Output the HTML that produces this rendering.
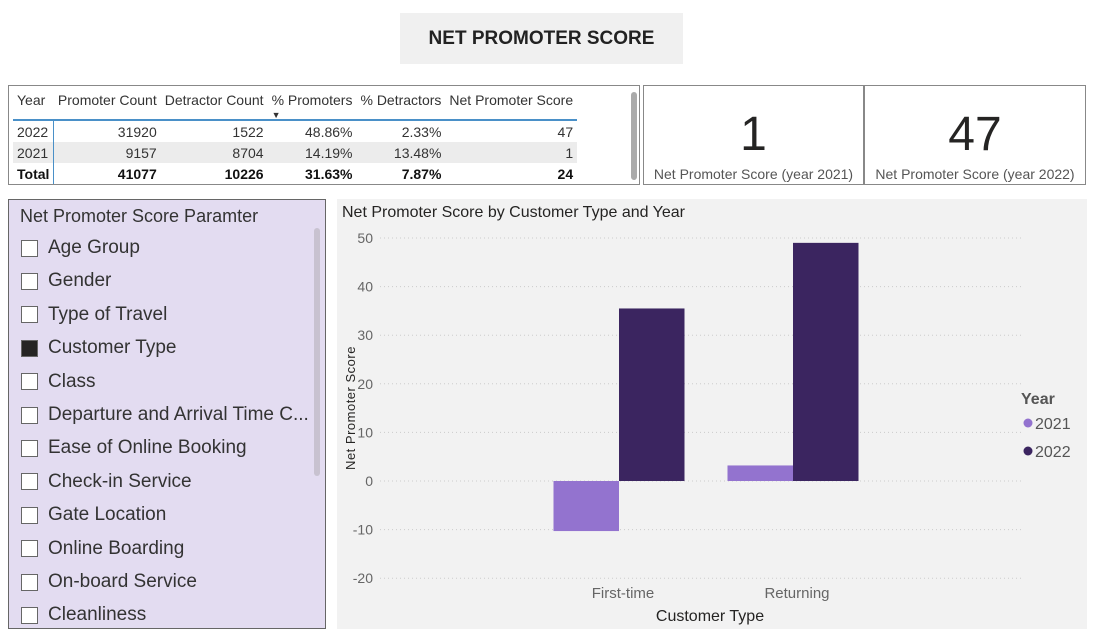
<!DOCTYPE html>
<html><head><meta charset="utf-8"><style>
body{margin:0;width:1093px;height:634px;background:#fff;font-family:"Liberation Sans",sans-serif;position:relative;overflow:hidden}
.abs{position:absolute}
#title{left:400px;top:13px;width:283px;height:51px;background:#f0f0f0;font-weight:bold;font-size:19px;display:flex;align-items:center;justify-content:center;color:#222}
#tbl{left:8px;top:85px;width:632px;height:100px;border:1px solid #888;box-sizing:border-box}
table{border-collapse:collapse;font-size:14px;color:#333;position:absolute;left:4px;top:6px}
td,th{padding:0 4px;height:21px;line-height:16px;text-align:right;font-weight:normal;white-space:nowrap}
th{height:27px;vertical-align:top;position:relative}
.arrow{position:absolute;left:4px;top:15px;font-size:9px}
.card{top:85px;height:100px;border:1px solid #888;box-sizing:border-box;text-align:center;color:#333}
.card .v{font-size:48px;margin-top:24px;line-height:50px;color:#252423}
.card .l{font-size:14px;margin-top:6px;color:#555}
#slicer{left:8px;top:199px;width:318px;height:430px;background:#e3dcf1;border:1px solid #666;box-sizing:border-box}
.item{position:absolute;left:12px;font-size:19px;color:#333;display:flex;align-items:center;white-space:nowrap}
.cb{width:17px;height:17px;border:1px solid #666;box-sizing:border-box;margin-right:10px;background:#fff}
</style></head><body>
<div id="title" class="abs">NET PROMOTER SCORE</div>
<div id="tbl" class="abs">
<table>
<tr style="border-bottom:2px solid #4a90c8"><th style="text-align:left">Year</th><th>Promoter Count</th><th>Detractor Count</th><th>% Promoters<span class="arrow">▼</span></th><th>% Detractors</th><th>Net Promoter Score</th></tr>
<tr><td style="text-align:left;border-right:1px solid #4a90c8">2022</td><td>31920</td><td>1522</td><td>48.86%</td><td>2.33%</td><td>47</td></tr>
<tr style="background:#ececec"><td style="text-align:left;border-right:1px solid #4a90c8">2021</td><td>9157</td><td>8704</td><td>14.19%</td><td>13.48%</td><td>1</td></tr>
<tr style="font-weight:bold;color:#111"><td style="text-align:left;border-right:1px solid #4a90c8"><b>Total</b></td><td><b>41077</b></td><td><b>10226</b></td><td><b>31.63%</b></td><td><b>7.87%</b></td><td><b>24</b></td></tr>
</table>
<div class="abs" style="left:622px;top:6px;width:6px;height:88px;background:#aaa;border-radius:3px"></div>
</div>
<div class="abs card" style="left:643px;width:221px"><div class="v">1</div><div class="l">Net Promoter Score (year 2021)</div></div>
<div class="abs card" style="left:864px;width:222px"><div class="v">47</div><div class="l">Net Promoter Score (year 2022)</div></div>
<div id="slicer" class="abs">
<div class="abs" style="left:11px;top:6px;font-size:18px;color:#333">Net Promoter Score Paramter</div>
<div class="abs" style="left:305px;top:28px;width:6px;height:248px;background:#c8c2d0;border-radius:3px"></div>
<div id="items"></div>
</div>
<div class="abs" style="left:337px;top:199px;width:750px;height:430px;background:#f2f2f2"></div>
<svg class="abs" style="left:0;top:0" width="1093" height="634" id="chart"></svg>
<script>
const opts=["Age Group","Gender","Type of Travel","Customer Type","Class","Departure and Arrival Time C...","Ease of Online Booking","Check-in Service","Gate Location","Online Boarding","On-board Service","Cleanliness"];
const box=document.getElementById('items');
opts.forEach((o,i)=>{const d=document.createElement('div');d.className='item';d.style.top=(37+i*33.4)+'px';


d.innerHTML='<div class="cb" style="'+(o==="Customer Type"?'background:#252423':'')+'"></div>'+o;box.appendChild(d);});

const categories=["First-time","Returning"];
const series2021=[-10.3,3.2];
const series2022=[35.5,49];
const yTicks=[50,40,30,20,10,0,-10,-20];
const NS="http://www.w3.org/2000/svg",svg=document.getElementById('chart');
function el(t,a,txt){const e=document.createElementNS(NS,t);for(const k in a)e.setAttribute(k,a[k]);if(txt!=null)e.textContent=txt;svg.appendChild(e);return e;}
const y=v=>481-v*4.86;
const x=i=>619+i*174;
const bw=65.5;
let e=el('text',{x:342,y:217,'font-size':16,fill:'#252423'},"Net Promoter Score by Customer Type and Year");

yTicks.forEach(t=>{
 e=el('line',{x1:380,x2:1022,y1:y(t),y2:y(t),stroke:'#ccc','stroke-dasharray':'1 3'});
 
 e=el('text',{x:373,y:y(t)+5,'text-anchor':'end','font-size':14,fill:'#666'},t);
 
});
categories.forEach((c,i)=>{
 const a=series2021[i],b=series2022[i];
 e=el('rect',{x:x(i)-bw,y:Math.min(y(a),y(0)),width:bw,height:Math.abs(y(a)-y(0)),fill:'#9373cf'});
 
 e=el('rect',{x:x(i),y:Math.min(y(b),y(0)),width:bw,height:Math.abs(y(b)-y(0)),fill:'#3b2560'});
 
 e=el('text',{x:x(i)+4,y:598,'text-anchor':'middle','font-size':15,fill:'#666'},c);
 
});
e=el('text',{x:710,y:621,'text-anchor':'middle','font-size':16,fill:'#252423'},"Customer Type");

e=el('text',{x:0,y:0,transform:'translate(355,408) rotate(-90)','text-anchor':'middle','font-size':13,fill:'#252423','letter-spacing':'0.5'},"Net Promoter Score");

e=el('text',{x:1021,y:404,'font-size':16,'font-weight':'bold',fill:'#555'},"Year");

[["2021","#9373cf",423],["2022","#3b2560",451]].forEach(l=>{
 e=el('circle',{cx:1028,cy:l[2],r:4.5,fill:l[1]});
 
 e=el('text',{x:1035,y:l[2]+6,'font-size':16,fill:'#555'},l[0]);
 
});
</script>
</body></html>
